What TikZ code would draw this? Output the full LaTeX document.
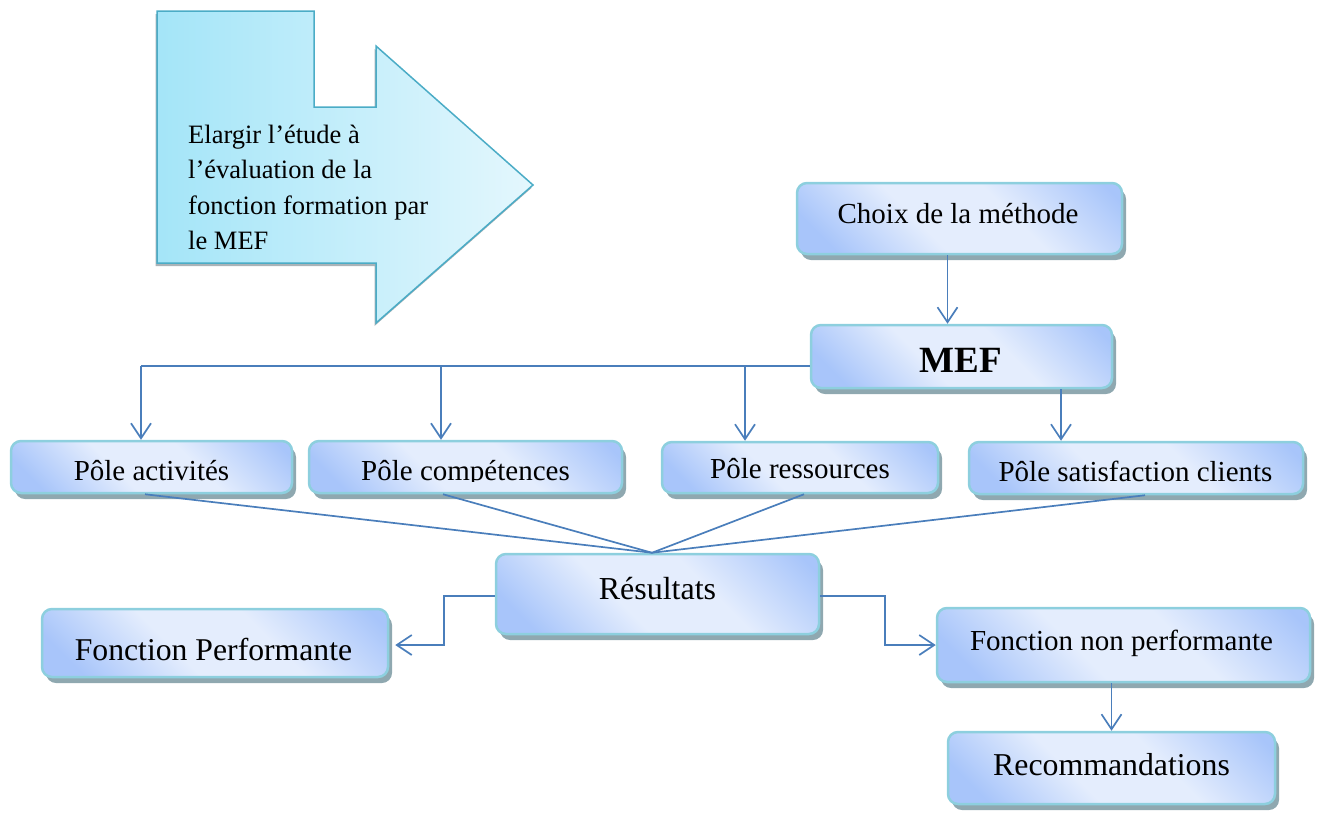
\documentclass[tikz,border=0pt]{standalone}
\usepackage{fontspec}
\setmainfont{Liberation Serif}
\usetikzlibrary{arrows.meta,shadows,calc}

\definecolor{bdark}{RGB}{168,197,250}
\definecolor{blight}{RGB}{228,237,253}
\definecolor{bedge}{RGB}{141,207,222}
\definecolor{bshadow}{RGB}{143,168,176}
\definecolor{linkblue}{RGB}{74,126,187}
\definecolor{adark}{RGB}{164,229,248}
\definecolor{alight}{RGB}{228,247,253}
\definecolor{aedge}{RGB}{75,172,198}
\definecolor{ashadow}{RGB}{150,160,165}

% diagonal glow: darker corners, light band through the middle
\pgfdeclarehorizontalshading{boxglow}{100bp}{color(0bp)=(bdark); color(22bp)=(bdark); color(42bp)=(blight); color(60bp)=(blight); color(82bp)=(bdark); color(100bp)=(bdark)}

\tikzset{
  box/.style={rectangle, rounded corners=10pt, draw=bedge, line width=2.5pt,
    shading=boxglow, shading angle=45,
    drop shadow={shadow xshift=4pt, shadow yshift=-6pt, fill=bshadow, opacity=1},
    inner sep=0pt},
  txt/.style={anchor=base, inner sep=0pt, text=black},
  conn/.style={draw=linkblue, line width=1.7pt, line join=miter},
  arr/.style={conn, -{Straight Barb[length=15pt,width=20pt]}},
}

\begin{document}
\begin{tikzpicture}[x=1pt,y=-1pt]
\useasboundingbox (0,0) rectangle (1317,812);

% big notched arrow
\path[drop shadow={shadow xshift=-1.5pt, shadow yshift=-3pt, fill=ashadow, opacity=0.8},
      left color=adark, right color=alight, draw=aedge, line width=1.5pt, line join=miter]
  (157,11) -- (314,11) -- (314,107) -- (376,107) -- (376,46) -- (533,185)
  -- (376,323) -- (376,263) -- (157,263) -- cycle;
\node[anchor=base west, align=left, inner sep=0pt,
      font=\fontsize{26.5}{35.5}\selectfont] (goal) at (188,249.5)
  {Elargir l’étude à\\l’évaluation de la\\fonction formation par\\le MEF};

% boxes
\node[box, minimum width=325pt, minimum height=71pt] (choix) at (959.5,218.5) {};
\node[box, minimum width=301pt, minimum height=63pt] (mef) at (961.5,356.5) {};
\node[box, minimum width=281pt, minimum height=52pt] (pa) at (151.5,467) {};
\node[box, minimum width=313pt, minimum height=52pt] (pc) at (465.5,467) {};
\node[box, minimum width=276pt, minimum height=51pt] (pr) at (800,467.5) {};
\node[box, minimum width=334pt, minimum height=52pt] (psc) at (1136,468) {};
\node[box, minimum width=323pt, minimum height=80pt] (res) at (657.5,594) {};
\node[box, minimum width=346pt, minimum height=68pt] (fp) at (215,643) {};
\node[box, minimum width=373pt, minimum height=74pt] (fnp) at (1123.5,645) {};
\node[box, minimum width=327pt, minimum height=72pt] (reco) at (1111.5,768) {};

% labels
\node[txt, font=\fontsize{29}{35}\selectfont] (tchoix) at (958,223) {Choix de la méthode};
\node[txt, font=\fontsize{37}{44}\selectfont\bfseries] (tmef) at (961,372) {MEF};
\begin{scope}
  \clip (0,0) rectangle (700,481.5);
  \node[txt, font=\fontsize{29}{35}\selectfont] (tpa) at (151.5,480.5) {Pôle activités};
  \node[txt, font=\fontsize{29}{35}\selectfont] (tpc) at (465.5,480.5) {Pôle compétences};
\end{scope}
\node[txt, font=\fontsize{29}{35}\selectfont] (tpr) at (800,478) {Pôle ressources};
\node[txt, font=\fontsize{29}{35}\selectfont] (tpsc) at (1135.5,481) {Pôle satisfaction clients};
\node[txt, font=\fontsize{32}{38}\selectfont] (tres) at (657.5,599) {Résultats};
\node[txt, font=\fontsize{31.7}{38}\selectfont] (tfp) at (213.5,660) {Fonction Performante};
\node[txt, font=\fontsize{29}{35}\selectfont] (tfnp) at (1121.5,650) {Fonction non performante};
\node[txt, font=\fontsize{31.8}{38}\selectfont] (treco) at (1111.5,775) {Recommandations};

% connectors
\draw[arr] ([xshift=-12pt]choix.south) -- ([xshift=-12pt]choix.south |- mef.north);

\coordinate (d1) at ([xshift=-10.5pt]pa.north);
\coordinate (d2) at ([xshift=-24.5pt]pc.north);
\coordinate (d3) at ([xshift=-55pt]pr.north);
\coordinate (bus) at ([yshift=-9.5pt]mef.west);
\draw[conn] (bus) -- (bus -| d1);
\draw[arr] (bus -| d1) -- (d1);
\draw[arr] (bus -| d2) -- (d2);
\draw[arr] (bus -| d3) -- (d3);
\draw[arr] ([xshift=99.5pt]mef.south) -- ([xshift=99.5pt]mef.south |- psc.north);

\coordinate (m) at ([xshift=-5.5pt]res.north);
\draw[conn] ([xshift=-6.5pt]pa.south) -- (m);
\draw[conn] ([xshift=-22.5pt]pc.south) -- (m);
\draw[conn] ([xshift=4pt]pr.south) -- (m);
\draw[conn] ([xshift=9pt]psc.south) -- (m);

\draw[arr] ([yshift=-2pt]res.west) -- ++(-51,0) |- ([xshift=6pt,yshift=-2pt]fp.east);
\draw[arr] ([yshift=-2pt]res.east) -- ++(65,0) |- (fnp.west);
\draw[arr] (reco.north |- fnp.south) -- (reco.north);
\end{tikzpicture}
\end{document}
